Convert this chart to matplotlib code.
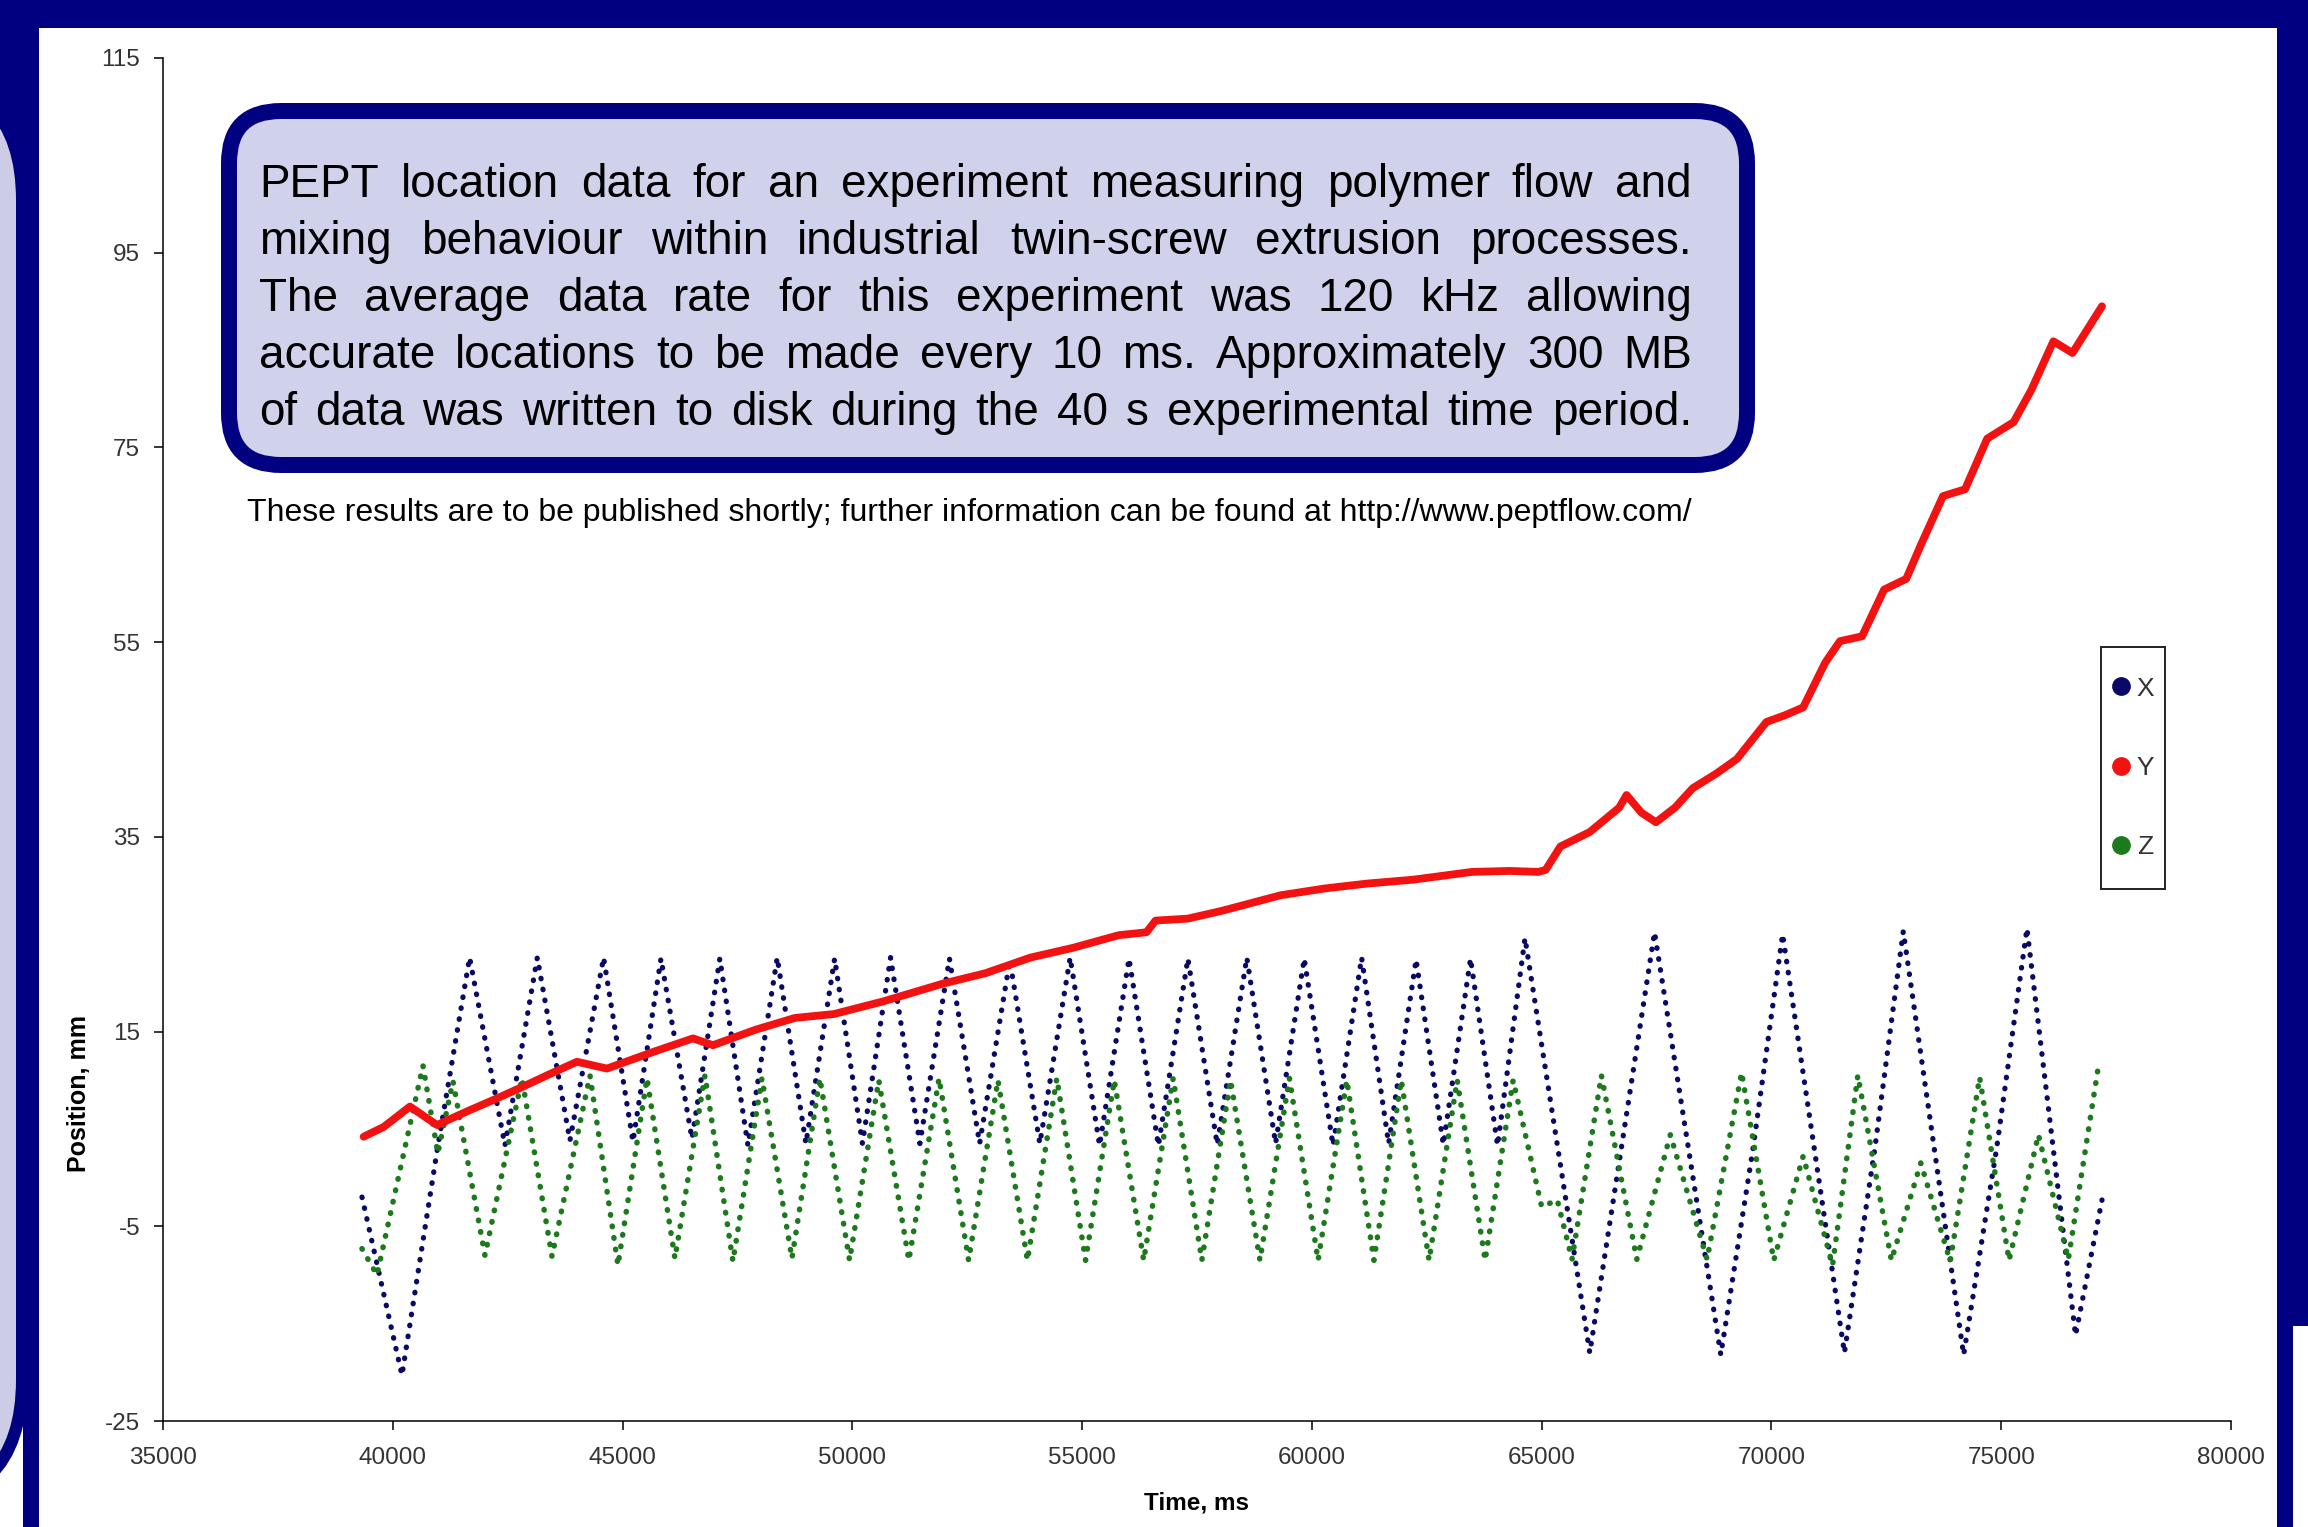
import matplotlib
matplotlib.use('Agg')
import matplotlib.pyplot as plt
from matplotlib.patches import Rectangle, FancyBboxPatch
from matplotlib.lines import Line2D

plt.rcParams['font.family'] = ['Liberation Sans', 'DejaVu Sans']
plt.rcParams['axes.unicode_minus'] = False

# ---------------- data ----------------
series_names = ['X', 'Y', 'Z']

x_t = [39330, 40200, 40962, 41672, 42441, 43145, 43855, 44587, 45226, 45836,
       46510, 47117, 47728, 48366, 48990, 49615, 50220, 50832, 51470, 52113,
       52770, 53427, 54080, 54740, 55380, 56021, 56660, 57302, 57940, 58584,
       59210, 59833, 60460, 61082, 61670, 62267, 62860, 63452, 64040, 64637,
       66047, 66700, 67456, 68898, 69600, 70243, 71588, 72250, 72869, 74182,
       74900, 75560, 76617, 77193]
x_v = [-2.0, -20.3, 2.7, 22.6, 3.3, 22.6, 3.8, 22.6, 3.7, 22.5,
       4.0, 22.5, 3.3, 22.6, 3.5, 22.5, 3.5, 22.6, 3.5, 22.5,
       3.5, 22.3, 3.5, 22.6, 3.3, 22.5, 3.3, 22.5, 3.4, 22.6,
       3.5, 22.5, 3.3, 22.6, 3.5, 22.4, 3.4, 22.5, 3.3, 24.6,
       -18.0, 2.0, 25.2, -18.2, 3.0, 25.0, -18.0, 3.0, 25.3, -18.2,
       3.0, 25.6, -16.2, -2.3]

y_t = [39366, 39800, 40374, 40962, 41614, 42200, 42768, 43400, 44008, 44661,
       45661, 46532, 46967, 47900, 48750, 49600, 50672, 51953, 52900, 53875,
       54800, 55797, 56400, 56598, 57300, 58039, 59320, 60281, 61200, 62203,
       63484, 64300, 64925, 65086, 65406, 66047, 66687, 66847, 67167, 67487,
       67900, 68288, 68800, 69249, 69890, 70300, 70690, 71171, 71491, 71972,
       72452, 72933, 73253, 73733, 74213, 74694, 75270, 75655, 76135, 76551,
       77192]
y_v = [4.2, 5.2, 7.3, 5.4, 6.8, 8.0, 9.2, 10.6, 11.9, 11.2,
       12.9, 14.3, 13.6, 15.2, 16.4, 16.8, 18.1, 19.9, 21.0, 22.6,
       23.6, 24.9, 25.2, 26.4, 26.6, 27.4, 29.0, 29.7, 30.2, 30.6,
       31.4, 31.5, 31.4, 31.6, 34.0, 35.5, 38.0, 39.3, 37.5, 36.5,
       38.0, 40.0, 41.5, 43.0, 46.8, 47.5, 48.3, 52.9, 55.1, 55.6,
       60.4, 61.5, 65.0, 70.0, 70.7, 75.9, 77.6, 80.9, 85.9, 84.7,
       89.5]

z_t = [39330, 39656, 40657, 40980, 41310, 42006, 42811, 43464, 44291, 44900,
       45531, 46140, 46793, 47402, 48033, 48686, 49294, 49940, 50575, 51230,
       51888, 52530, 53169, 53810, 54450, 55075, 55700, 56340, 56981, 57605,
       58230, 58870, 59511, 60135, 60760, 61350, 61945, 62550, 63162, 63770,
       64379, 65000, 65340, 65660, 66300, 67070, 67800, 68600, 69350, 70050,
       70690, 71330, 71880, 72610, 73250, 73890, 74530, 75170, 75810, 76460,
       77100]
z_v = [-7.3, -10.0, 11.5, 2.5, 9.9, -8.0, 10.2, -8.1, 10.5, -9.0,
       10.2, -8.3, 10.5, -8.6, 10.2, -8.3, 10.2, -8.5, 10.0, -8.5,
       10.2, -8.5, 10.0, -8.5, 10.2, -8.5, 10.0, -8.5, 10.2, -8.5,
       10.0, -8.5, 10.2, -8.5, 10.0, -8.5, 10.0, -8.5, 10.0, -8.5,
       10.0, -3.0, -2.3, -8.4, 10.5, -8.4, 4.4, -8.4, 10.8, -8.5,
       2.2, -9.0, 10.5, -8.5, 1.5, -8.6, 10.3, -8.5, 4.4, -8.4,
       11.0]

x_ticks = list(range(35000, 80001, 5000))
y_ticks = list(range(-25, 116, 20))

note_lines = [
    "PEPT location data for an experiment measuring polymer flow and",
    "mixing behaviour within industrial twin-screw extrusion processes.",
    "The average data rate for this experiment was 120 kHz allowing",
    "accurate locations to be made every 10 ms. Approximately 300 MB",
    "of data was written to disk during the 40 s experimental time period.",
]
footnote = ("These results are to be published shortly; further information "
            "can be found at http://www.peptflow.com/")

# ---------------- figure / poster background ----------------
W, H, DPI = 2308, 1527, 100
NAVY = '#000080'
LAV = '#D0D1EA'
C_X, C_Y, C_Z = '#0A0A66', '#F21212', '#1C7A1C'

fig = plt.figure(figsize=(W / DPI, H / DPI), dpi=DPI, facecolor=NAVY)

bg = fig.add_axes([0, 0, 1, 1], zorder=0)
bg.set_xlim(0, W); bg.set_ylim(H, 0); bg.axis('off')
bg.add_patch(Rectangle((0, 1300), 23, 240, fc='white', ec='none'))
bg.add_patch(FancyBboxPatch((-300, -300), 328, 1812,
                            boxstyle='round,pad=0,rounding_size=132',
                            fc=NAVY, ec='none'))
bg.add_patch(FancyBboxPatch((-300, 80), 316, 1420,
                            boxstyle='round,pad=0,rounding_size=120',
                            fc='#CCCCE6', ec='none'))
bg.add_patch(Rectangle((39, 28), 2238, 1510, fc='white', ec='none'))
bg.add_patch(Rectangle((2293, 1326), 30, 210, fc='white', ec='none'))

# ---------------- main chart ----------------
L, R, T, B = 163, 2231, 58, 1421
ax = fig.add_axes([L / W, (H - B) / H, (R - L) / W, (B - T) / H], zorder=1)
ax.patch.set_alpha(0)

dot = (0, (0.1, 2.0))
ax.plot(x_t, x_v, color=C_X, lw=3.8, ls=dot, dash_capstyle='round')
ax.plot(z_t, z_v, color=C_Z, lw=4.0, ls=dot, dash_capstyle='round')
ax.plot(y_t, y_v, color=C_Y, lw=5.6, solid_capstyle='round', solid_joinstyle='round')

ax.set_xlim(35000, 80000)
ax.set_ylim(-25, 115)
ax.set_xticks(x_ticks)
ax.set_yticks(y_ticks)
for s in ('top', 'right'):
    ax.spines[s].set_visible(False)
for s in ('left', 'bottom'):
    ax.spines[s].set_linewidth(1.1)
    ax.spines[s].set_color('black')
ax.tick_params(axis='both', direction='out', length=6.5, width=1.1,
               labelsize=17.5, labelcolor='#333333', color='black')
ax.tick_params(axis='y', pad=10)
ax.tick_params(axis='x', pad=12)

ax.set_xlabel('Time, ms', fontsize=17.5, fontweight='bold', color='black')
ax.set_ylabel('Position, mm', fontsize=18, fontweight='bold', color='black')
ax.xaxis.set_label_coords(0.5, -0.052)
ax.yaxis.set_label_coords(-0.035, 0.2406)

# legend: entries without frame, plus a plain frame rectangle
handles = [Line2D([], [], marker='o', ls='none', color=c, markersize=12.5)
           for c in (C_X, C_Y, C_Z)]
leg = ax.legend(handles, series_names, loc='center left',
                bbox_to_anchor=((2113 - L) / (R - L), (B - 768) / (B - T)),
                frameon=False, fontsize=19, labelspacing=2.1, handlelength=0.6,
                handletextpad=0.3, borderpad=0, borderaxespad=0)
for t in leg.get_texts():
    t.set_color('#333333')

# ---------------- annotation box ----------------
fg = fig.add_axes([0, 0, 1, 1], zorder=3)
fg.set_xlim(0, W); fg.set_ylim(H, 0); fg.axis('off')
fg.patch.set_alpha(0)
fg.add_patch(Rectangle((2101, 647), 64, 242, fc='none', ec='#222222', lw=1.4))
fg.add_patch(FancyBboxPatch((229, 111), 1518, 354,
                            boxstyle='round,pad=0,rounding_size=52',
                            fc=LAV, ec=NAVY, lw=11.5))

renderer = fig.canvas.get_renderer()


def justify(line, x0, x1, y, **kw):
    words = line.split()
    ts = [fg.text(0, y, w, ha='left', va='baseline', **kw) for w in words]
    widths = [t.get_window_extent(renderer).width for t in ts]
    gap = (x1 - x0 - sum(widths)) / (len(words) - 1)
    x = x0
    for t, w in zip(ts, widths):
        t.set_x(x)
        x += w + gap


for i, line in enumerate(note_lines):
    justify(line, 259, 1692, 197 + 57 * i, fontsize=33, color='black')

ft = fg.text(247, 521, footnote, ha='left', va='baseline', fontsize=18, color='black')
w0 = ft.get_window_extent(renderer).width
ft.set_fontsize(18 * 1446 / w0)

fig.savefig('out.png', dpi=DPI, facecolor=NAVY)
